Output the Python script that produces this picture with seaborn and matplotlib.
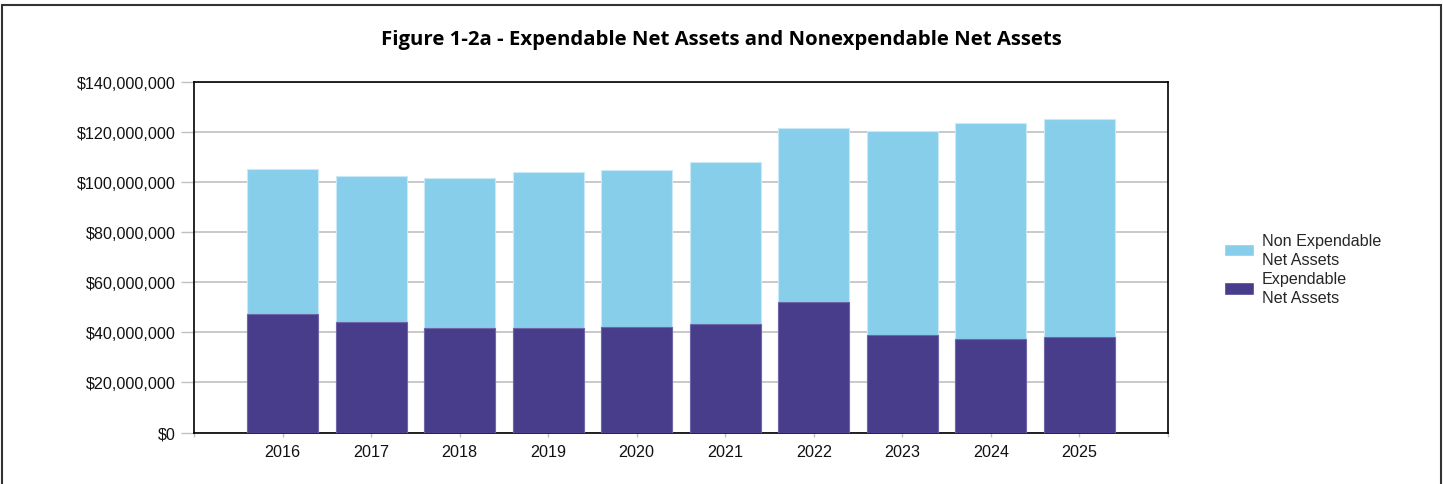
import pandas as pd
import seaborn as sns
import matplotlib.pyplot as plt
from matplotlib.patches import Rectangle, Patch
from matplotlib.ticker import FuncFormatter

# datos (en dolares)
years = ['2016', '2017', '2018', '2019', '2020', '2021', '2022', '2023', '2024', '2025']
expendable = [47.4e6, 44.0e6, 41.6e6, 41.8e6, 42.1e6, 43.3e6, 52.1e6, 38.9e6, 37.5e6, 38.0e6]
total = [105.2e6, 102.4e6, 101.6e6, 104.0e6, 104.8e6, 108.1e6, 121.6e6, 120.2e6, 123.7e6, 125.1e6]

c_non = '#87CEEB'
c_exp = '#483D8B'

data = pd.DataFrame({'Year': years, 'Expendable': expendable, 'Total': total})

sns.set_style('white')
plt.rcParams['font.family'] = ['Liberation Sans', 'DejaVu Sans']

fig = plt.figure(figsize=(14.43, 4.85), dpi=100)
ax = fig.add_axes([194 / 1443, 1 - 433.5 / 485, (1168 - 194) / 1443, (433.5 - 82.8) / 485])

# barras apiladas: total (no gastable encima) y gastable abajo
sns.barplot(data=data, x='Year', y='Total', color=c_non, width=0.8, saturation=1,
            edgecolor='#c8e9f5', linewidth=0.8, ax=ax, zorder=2)
sns.barplot(data=data, x='Year', y='Expendable', color=c_exp, width=0.8, saturation=1,
            edgecolor='#6f66a8', linewidth=0.8, ax=ax, zorder=3)

ax.set_xlim(-1, 10)
ax.set_ylim(0, 140e6)
ax.set_yticks(range(0, 140000001, 20000000))
ax.yaxis.set_major_formatter(FuncFormatter(lambda v, p: f'${v:,.0f}'))
ax.grid(axis='y', color='#c0c0c0', linewidth=1.2, zorder=0)
ax.set_axisbelow(True)
ax.set_xticks(range(-1, 11))
ax.set_xticklabels([''] + years + [''])
ax.set_xlabel('')
ax.set_ylabel('')
ax.tick_params(axis='y', length=9.5, width=1, color='#c0c0c0', pad=3.5, labelsize=11.6, labelcolor='#111111', left=True)
ax.tick_params(axis='x', length=3, width=1, color='#c0c0c0', pad=5.5, labelsize=11.6, labelcolor='#111111', bottom=True)
for s in ax.spines.values():
    s.set_color('black')
    s.set_linewidth(1.2)

fig.text(0.4997, 0.918, 'Figure 1-2a - Expendable Net Assets and Nonexpendable Net Assets',
         ha='center', va='center', fontsize=14.7, fontweight='bold', color='black',
         family=['Open Sans', 'DejaVu Sans'])

handles = [Patch(facecolor=c_non), Patch(facecolor=c_exp)]
labels = ['Non Expendable\nNet Assets', 'Expendable\nNet Assets']
leg = fig.legend(handles, labels, loc='center left', bbox_to_anchor=(1224 / 1443, 1 - 270 / 485),
                 bbox_transform=fig.transFigure, frameon=False, fontsize=11.6, borderpad=0,
                 borderaxespad=0, handlelength=1.85, handleheight=0.85, handletextpad=0.5,
                 labelspacing=0.3)
for t in leg.get_texts():
    t.set_linespacing(1.34)

# borde exterior del grafico
fig.patches.append(Rectangle((2 / 1443, -0.05), 1439 / 1443, 1 - 6 / 485 + 0.05,
                             transform=fig.transFigure, fill=False, edgecolor='#333333',
                             linewidth=1.5, zorder=0))

fig.savefig('out.png', dpi=100)
